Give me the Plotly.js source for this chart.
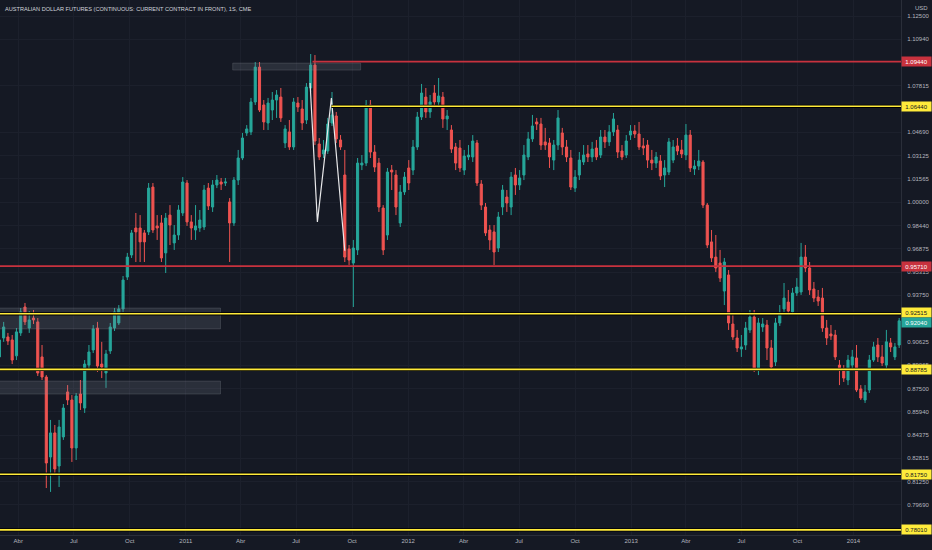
<!DOCTYPE html>
<html>
<head>
<meta charset="utf-8">
<script src="https://cdn.plot.ly/plotly-3.0.1.min.js"></script>
<style>html,body{margin:0;padding:0;background:#151924;}#chart{width:932px;height:550px;}</style>
</head>
<body>
<div id="chart"></div>
<script>
// Weekly bars, first bar week of 2010-03-01
var firstWeek = '2010-03-01';
var openP = [
0.8962,0.9089,0.9096,0.9076,0.8969,0.9123,0.9297,0.9156,0.9223,0.9197,
0.8962,0.8827,0.8290,0.8452,0.8230,0.8425,0.8727,0.8673,0.8351,0.8713,
0.8619,0.8907,0.9009,0.9156,0.8914,0.8854,0.9002,0.9156,0.9190,0.9284,
0.9498,0.9646,0.9827,0.9827,0.9794,0.9801,1.0102,0.9841,0.9861,0.9660,
0.9914,0.9727,0.9780,0.9928,1.0129,0.9868,0.9814,0.9827,0.9834,1.0095,
0.9968,1.0116,1.0136,1.0129,1.0002,0.9861,1.0149,1.0297,1.0465,1.0472,
1.0673,1.0907,1.0653,1.0532,1.0619,1.0686,1.0706,1.0398,1.0472,1.0371,
1.0666,1.0626,1.0552,1.0767,1.0921,1.0391,1.0324,1.0344,1.0532,1.0579,
1.0418,1.0183,0.9687,0.9592,0.9680,1.0250,1.0263,1.0653,1.0337,1.0263,
0.9961,0.9780,1.0216,1.0183,0.9861,1.0069,1.0230,1.0216,1.0371,1.0572,
1.0706,1.0606,1.0733,1.0673,1.0706,1.0559,1.0485,1.0371,1.0364,1.0216,
1.0304,1.0304,1.0398,1.0122,0.9968,0.9814,0.9801,0.9693,0.9968,1.0035,
0.9968,1.0183,1.0116,1.0183,1.0304,1.0425,1.0539,1.0525,1.0405,1.0398,
1.0283,1.0384,1.0465,1.0371,1.0297,1.0095,1.0183,1.0270,1.0324,1.0304,
1.0364,1.0317,1.0438,1.0405,1.0472,1.0485,1.0344,1.0317,1.0451,1.0478,
1.0458,1.0378,1.0384,1.0283,1.0263,1.0277,1.0183,1.0203,1.0283,1.0378,
1.0351,1.0317,1.0451,1.0223,1.0243,1.0270,0.9981,0.9734,0.9632,0.9592,
0.9404,0.9512,0.9183,0.9089,0.9015,0.9042,0.9143,0.9230,0.8887,0.9163,
0.9176,0.9022,0.8928,0.9190,0.9284,0.9330,0.9264,0.9391,0.9398,0.9632,
0.9559,0.9418,0.9364,0.9357,0.9156,0.9116,0.9109,0.8907,0.8874,0.8807,
0.8907,0.8955,0.8747,0.8673,0.8740,0.8941,0.9042,0.8962,0.8907,0.9056,
0.8962,0.9042];
var highP = [
0.9109,0.9197,0.9123,0.9109,0.9156,0.9290,0.9324,0.9270,0.9277,0.9223,
0.9042,0.8840,0.8539,0.8505,0.8539,0.8646,0.8773,0.8706,0.8720,0.8807,
0.8941,0.9042,0.9176,0.9197,0.9063,0.9009,0.9190,0.9290,0.9310,0.9505,
0.9660,0.9814,0.9928,0.9914,0.9814,1.0129,1.0129,0.9914,0.9914,0.9928,
0.9981,0.9847,0.9981,1.0169,1.0149,0.9914,0.9981,0.9948,1.0116,1.0129,
1.0149,1.0183,1.0163,1.0163,1.0028,1.0169,1.0351,1.0465,1.0518,1.0700,
1.0941,1.0941,1.0686,1.0700,1.0740,1.0753,1.0767,1.0518,1.0552,1.0700,
1.0706,1.0686,1.0800,1.0995,1.0988,1.0431,1.0418,1.0566,1.0740,1.0606,
1.0451,1.0351,0.9713,0.9747,1.0297,1.0317,1.0686,1.0686,1.0384,1.0297,
0.9981,1.0230,1.0250,1.0216,1.0116,1.0203,1.0283,1.0418,1.0606,1.0794,
1.0767,1.0720,1.0787,1.0834,1.0740,1.0619,1.0518,1.0398,1.0418,1.0351,
1.0384,1.0451,1.0418,1.0149,0.9995,0.9847,0.9847,0.9935,1.0116,1.0082,
1.0203,1.0230,1.0216,1.0384,1.0472,1.0586,1.0566,1.0566,1.0499,1.0431,
1.0418,1.0619,1.0499,1.0418,1.0351,1.0216,1.0337,1.0384,1.0384,1.0405,
1.0418,1.0485,1.0485,1.0518,1.0599,1.0518,1.0384,1.0451,1.0518,1.0518,
1.0539,1.0431,1.0418,1.0351,1.0337,1.0317,1.0283,1.0431,1.0418,1.0431,
1.0418,1.0525,1.0485,1.0283,1.0351,1.0283,0.9995,0.9814,0.9780,0.9680,
0.9626,0.9545,0.9243,0.9143,0.9109,0.9197,0.9277,0.9277,0.9223,0.9223,
0.9210,0.9076,0.9223,0.9310,0.9458,0.9411,0.9425,0.9491,0.9727,0.9713,
0.9599,0.9465,0.9411,0.9425,0.9210,0.9176,0.9143,0.8941,0.8907,0.8975,
0.9009,0.9042,0.8773,0.8773,0.8975,0.9063,0.9089,0.9042,0.9143,0.9089,
0.9056,0.9223];
var lowP = [
0.8928,0.9063,0.9042,0.8914,0.8941,0.9103,0.9176,0.9123,0.9183,0.8834,
0.8807,0.8082,0.8056,0.8169,0.8089,0.8405,0.8639,0.8257,0.8270,0.8606,
0.8586,0.8887,0.8988,0.8861,0.8820,0.8754,0.8982,0.9136,0.9176,0.9264,
0.9478,0.9626,0.9599,0.9599,0.9599,0.9780,0.9794,0.9747,0.9599,0.9525,
0.9713,0.9680,0.9747,0.9908,0.9841,0.9747,0.9747,0.9801,0.9814,0.9948,
0.9935,1.0095,1.0082,1.0109,0.9599,0.9841,1.0116,1.0283,1.0445,1.0451,
1.0653,1.0606,1.0485,1.0485,1.0552,1.0566,1.0539,1.0364,1.0351,1.0351,
1.0606,1.0485,1.0525,1.0740,1.0384,1.0283,1.0297,1.0324,1.0512,1.0398,
1.0351,0.9599,0.9579,0.9297,0.9646,1.0216,1.0243,1.0297,1.0203,0.9935,
0.9646,0.9747,1.0082,0.9914,0.9834,1.0049,1.0082,1.0183,1.0351,1.0552,
1.0566,1.0566,1.0633,1.0633,1.0499,1.0485,1.0331,1.0216,1.0203,1.0183,
1.0283,1.0270,1.0109,0.9948,0.9774,0.9680,0.9579,0.9666,0.9914,0.9935,
0.9914,1.0049,1.0082,1.0149,1.0283,1.0405,1.0485,1.0351,1.0351,1.0230,
1.0216,1.0351,1.0317,1.0270,1.0082,1.0069,1.0149,1.0250,1.0270,1.0270,
1.0283,1.0297,1.0364,1.0378,1.0445,1.0297,1.0283,1.0297,1.0418,1.0431,
1.0351,1.0317,1.0230,1.0216,1.0230,1.0149,1.0102,1.0183,1.0263,1.0317,
1.0297,1.0283,1.0203,1.0183,1.0216,0.9961,0.9693,0.9599,0.9532,0.9465,
0.9310,0.9143,0.9076,0.8995,0.8962,0.9009,0.9123,0.8861,0.8840,0.9130,
0.8941,0.8874,0.8901,0.9170,0.9264,0.9243,0.9243,0.9371,0.9378,0.9532,
0.9378,0.9330,0.9304,0.9130,0.9042,0.9076,0.8941,0.8773,0.8794,0.8773,
0.8887,0.8727,0.8673,0.8653,0.8720,0.8928,0.8928,0.8901,0.8887,0.8995,
0.8941,0.9022];
var closeP = [
0.9076,0.9163,0.9069,0.8941,0.9130,0.9264,0.9197,0.9210,0.9210,0.8854,
0.8827,0.8250,0.8452,0.8210,0.8492,0.8619,0.8673,0.8351,0.8700,0.8653,
0.8914,0.8995,0.9150,0.8901,0.8894,0.8982,0.9163,0.9264,0.9284,0.9478,
0.9632,0.9794,0.9801,0.9734,0.9734,1.0095,0.9814,0.9827,0.9626,0.9894,
0.9847,0.9780,0.9948,1.0136,0.9868,0.9827,0.9841,0.9881,1.0082,0.9975,
1.0116,1.0149,1.0122,1.0136,0.9861,1.0149,1.0297,1.0431,1.0492,1.0673,
1.0907,1.0619,1.0539,1.0666,1.0686,1.0720,1.0566,1.0492,1.0371,1.0673,
1.0639,1.0532,1.0773,1.0921,1.0411,1.0304,1.0351,1.0525,1.0586,1.0425,
1.0371,0.9632,0.9612,0.9693,1.0263,1.0263,1.0653,1.0337,1.0236,0.9968,
0.9680,1.0203,1.0203,0.9968,1.0069,1.0169,1.0129,1.0371,1.0572,1.0733,
1.0606,1.0673,1.0673,1.0713,1.0559,1.0579,1.0357,1.0263,1.0230,1.0310,
1.0317,1.0411,1.0129,0.9981,0.9794,0.9747,0.9666,0.9901,1.0082,0.9995,
1.0169,1.0116,1.0163,1.0317,1.0425,1.0512,1.0525,1.0384,1.0384,1.0304,
1.0384,1.0566,1.0371,1.0304,1.0102,1.0169,1.0283,1.0317,1.0304,1.0357,
1.0304,1.0438,1.0405,1.0472,1.0559,1.0337,1.0304,1.0411,1.0478,1.0458,
1.0371,1.0364,1.0283,1.0263,1.0304,1.0176,1.0230,1.0405,1.0371,1.0344,
1.0324,1.0451,1.0230,1.0243,1.0277,0.9981,0.9713,0.9626,0.9559,0.9491,
0.9599,0.9190,0.9096,0.9022,0.9029,0.9156,0.9230,0.8887,0.9190,0.9183,
0.9022,0.8894,0.9190,0.9250,0.9357,0.9270,0.9391,0.9431,0.9632,0.9559,
0.9411,0.9357,0.9337,0.9156,0.9089,0.9103,0.8962,0.8874,0.8820,0.8941,
0.8962,0.8740,0.8686,0.8727,0.8941,0.9029,0.8962,0.8921,0.9063,0.9029,
0.9029,0.9204];

// x-axis tick labels (Portuguese)
var xTickDates = ['2010-04-01','2010-07-01','2010-10-01','2011-01-01','2011-04-01','2011-07-01','2011-10-01','2012-01-01','2012-04-01','2012-07-01','2012-10-01','2013-01-01','2013-04-01','2013-07-01','2013-10-01','2014-01-01'];
var xTickText = ['Abr','Jul','Oct','2011','Abr','Jul','Oct','2012','Abr','Jul','Oct','2013','Abr','Jul','Oct','2014'];
// y-axis tick labels
var yTickVals = [1.125,1.1094,1.07815,1.0469,1.03125,1.01565,1.0,0.9844,0.96875,0.95315,0.9375,0.90625,0.89065,0.875,0.8594,0.84375,0.82815,0.8125,0.7969];
var yTickText = ['1.12500','1.10940','1.07815','1.04690','1.03125','1.01565','1.00000','0.98440','0.96875','0.95315','0.93750','0.90625','0.89065','0.87500','0.85940','0.84375','0.82815','0.81250','0.79690'];

// drawn horizontal levels
var levelPrices = [1.0944, 1.0644, 0.9571, 0.92515, 0.88785, 0.8175, 0.7801];
var levelLabels = ['1.09440','1.06440','0.95710','0.92515','0.88785','0.81750','0.78010'];
var levelKinds  = ['red','yellow','red','yellow','yellow','yellow','yellow'];
var levelStarts = ['2011-07-28','2011-08-28','2010-01-01','2010-01-01','2010-01-01','2010-01-01','2010-01-01'];
var lastPrice = 0.9204, lastLabel = '0.92040';

// drawn zones
var zoneX0 = ['2011-03-19','2010-01-01','2010-01-01'];
var zoneX1 = ['2011-10-15','2011-02-27','2011-02-27'];
var zoneY0 = [1.0887, 0.9150, 0.8713];
var zoneY1 = [1.0934, 0.9290, 0.8800];

// drawn white pattern line
var patternX = ['2011-07-24','2011-08-05','2011-08-28','2011-09-19'];
var patternY = [1.0800, 0.9868, 1.0700, 0.9675];

var dates = [];
var t0 = Date.parse(firstWeek + 'T00:00:00Z');
for (var i = 0; i < closeP.length; i++) {
  dates.push(new Date(t0 + i * 7 * 86400000).toISOString().slice(0, 10));
}

var UP = '#26a69a', DN = '#ef5350';
var RED = '#c8323e', YEL = '#ffeb3b';
var FONT = 'Liberation Sans, Arial, sans-serif';

var traces = [
  {
    type: 'candlestick', x: dates, open: openP, high: highP, low: lowP, close: closeP,
    increasing: {line: {color: UP, width: 1}, fillcolor: UP},
    decreasing: {line: {color: DN, width: 1}, fillcolor: DN},
    whiskerwidth: 0, hoverinfo: 'skip', showlegend: false
  },
  {
    type: 'scatter', mode: 'lines', x: patternX, y: patternY,
    line: {color: '#e8e8ea', width: 1.2}, hoverinfo: 'skip', showlegend: false
  }
];

var shapes = [];
for (var z = 0; z < zoneX0.length; z++) {
  shapes.push({type: 'rect', xref: 'x', yref: 'y', x0: zoneX0[z], x1: zoneX1[z], y0: zoneY0[z], y1: zoneY1[z],
    fillcolor: 'rgba(130,134,148,0.2)', line: {color: 'rgba(150,153,165,0.22)', width: 1}, layer: 'above'});
}
for (var k = 0; k < levelPrices.length; k++) {
  var col = levelKinds[k] === 'red' ? RED : YEL;
  if (levelKinds[k] === 'yellow') {
    shapes.push({type: 'line', xref: 'x', yref: 'y', x0: levelStarts[k], x1: '2014-06-01', y0: levelPrices[k], y1: levelPrices[k],
      line: {color: '#000000', width: 3.2}, layer: 'above'});
  }
  shapes.push({type: 'line', xref: 'x', yref: 'y', x0: levelStarts[k], x1: '2014-06-01', y0: levelPrices[k], y1: levelPrices[k],
    line: {color: col, width: 1.6}, layer: 'above'});
}

var annotations = [
  {xref: 'paper', yref: 'paper', x: 0, y: 1, xanchor: 'left', yanchor: 'top', xshift: 3, yshift: -4,
   text: 'AUSTRALIAN DOLLAR FUTURES (CONTINUOUS: CURRENT CONTRACT IN FRONT), 1S, CME',
   showarrow: false, font: {family: FONT, size: 5.6, color: '#d1d4dc'}},
  {xref: 'paper', yref: 'paper', x: 1, y: 1, xanchor: 'left', yanchor: 'top', xshift: 12, yshift: -3,
   text: 'USD', showarrow: false, font: {family: FONT, size: 6, color: '#b2b5be'}}
];
function boxLabel(price, txt, bg, fg, dy) {
  annotations.push({xref: 'paper', yref: 'y', x: 1, y: price, xanchor: 'left', yanchor: 'middle', xshift: 0, yshift: dy,
    text: txt, showarrow: false, bgcolor: bg, borderpad: 1.5, width: 26, height: 6, align: 'center',
    font: {family: FONT, size: 6, color: fg}});
}
for (var m = 0; m < levelPrices.length; m++) {
  var dy = levelLabels[m] === '0.92515' ? 1.5 : 0;
  if (levelKinds[m] === 'red') boxLabel(levelPrices[m], levelLabels[m], RED, '#ffffff', dy);
  else boxLabel(levelPrices[m], levelLabels[m], YEL, '#131722', dy);
}
boxLabel(lastPrice, lastLabel, UP, '#ffffff', -1.5);

var layout = {
  width: 932, height: 550,
  margin: {l: 0, r: 31, t: 0, b: 15, pad: 0},
  paper_bgcolor: '#151924', plot_bgcolor: '#151924',
  showlegend: false,
  xaxis: {
    type: 'date', range: ['2010-03-02', '2014-03-20'],
    rangeslider: {visible: false},
    tickmode: 'array', tickvals: xTickDates, ticktext: xTickText,
    showgrid: true, gridcolor: '#1c202c', gridwidth: 1,
    ticks: '', tickfont: {family: FONT, size: 6, color: '#b2b5be'},
    showline: true, linecolor: '#2a2e39', linewidth: 1, zeroline: false, fixedrange: true
  },
  yaxis: {
    side: 'right', range: [0.77668, 1.13574],
    tickmode: 'array', tickvals: yTickVals, ticktext: yTickText,
    showgrid: true, gridcolor: '#1c202c', gridwidth: 1,
    ticks: '', ticklabelstandoff: 4,
    tickfont: {family: FONT, size: 6, color: '#b2b5be'},
    showline: true, linecolor: '#2a2e39', linewidth: 1, zeroline: false, fixedrange: true
  },
  shapes: shapes,
  annotations: annotations
};

Plotly.newPlot('chart', traces, layout, {staticPlot: true, displayModeBar: false});
</script>
</body>
</html>
